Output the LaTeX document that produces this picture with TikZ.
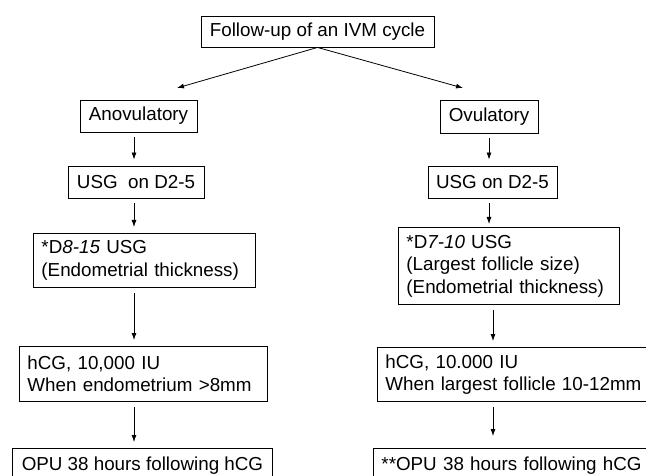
\documentclass[tikz,border=0pt]{standalone}
\usepackage{fontspec}
\setmainfont{Liberation Sans}
\usetikzlibrary{arrows.meta,positioning}

\begin{document}
\begin{tikzpicture}[x=1pt, y=-1pt, box/.style = {draw, line width=0.9pt, inner xsep=8pt, inner ysep=0pt, font=\fontsize{18.8}{22.5}\selectfont}, tbox/.style = {box, anchor=north west, align=left}, arr/.style = {line width=0.8pt, -{Latex[length=7pt,width=5pt]}}, down/.style = {arr, shorten <=5pt, shorten >=6pt}]
	\useasboundingbox (0,0) rectangle (646,476);
	\clip (0,0) rectangle (646,476);
	% top of the chart
	\node[box, minimum width=233pt, minimum height=31pt] (top) at (317.5,31.5) {Follow-up of an IVM cycle};
	% anovulatory branch
	\node[box, minimum width=117pt, minimum height=32pt] (anov) at (138.5,116) {Anovulatory};
	\node[box, minimum width=136pt, minimum height=32pt] (usgA) at (136,182) {USG\ \ on D2-5};
	\node[tbox, text width=206pt, minimum height=54pt] (scanA) at (33,233) {*D\textit{8-15} USG\\(Endometrial thickness)};
	\node[tbox, text width=232pt, minimum height=55pt] (hcgA) at (19,346) {hCG, 10,000 IU\\When endometrium >8mm};
	\node[box, anchor=north west, minimum width=260pt, minimum height=34pt] (opuA) at (12,448) {OPU 38 hours following hCG};
	% ovulatory branch
	\node[box, minimum width=98pt, minimum height=33pt] (ovu) at (489,116.5) {Ovulatory};
	\node[box, minimum width=129pt, minimum height=32pt] (usgO) at (492.5,182) {USG on D2-5};
	\node[tbox, text width=205pt, minimum height=77pt] (scanO) at (398,227) {*D\textit{7-10} USG\\(Largest follicle size)\\(Endometrial thickness)};
	\node[tbox, text width=274pt, minimum height=54pt] (hcgO) at (377,347) {hCG, 10.000 IU\\When largest follicle 10-12mm};
	\node[tbox, text width=274pt, minimum height=34pt] (opuO) at (373,448) {**OPU 38 hours following hCG};
	% arrows
	\coordinate (tipA) at (177,88);
	\coordinate (tipO) at (463,88);
	\coordinate (colA) at (134,0);
	\coordinate (colO) at (489,0);
	\coordinate (colP) at (493,0);
	\draw[arr] (top.south) -- (tipA);
	\draw[arr] (top.south) -- (tipO);
	\draw[down] (anov.south -| colA) -- (usgA.north -| colA);
	\draw[down] (usgA.south -| colA) -- (scanA.north -| colA);
	\draw[down] (scanA.south -| colA) -- (hcgA.north -| colA);
	\draw[down] (hcgA.south -| colA) -- (opuA.north -| colA);
	\draw[down] (ovu.south -| colO) -- (usgO.north -| colO);
	\draw[down, shorten >=3pt] (usgO.south -| colO) -- (scanO.north -| colO);
	\draw[down] (scanO.south -| colP) -- (hcgO.north -| colP);
	\draw[down, shorten >=12pt] (hcgO.south -| colP) -- (opuO.north -| colP);
\end{tikzpicture}
\end{document}
